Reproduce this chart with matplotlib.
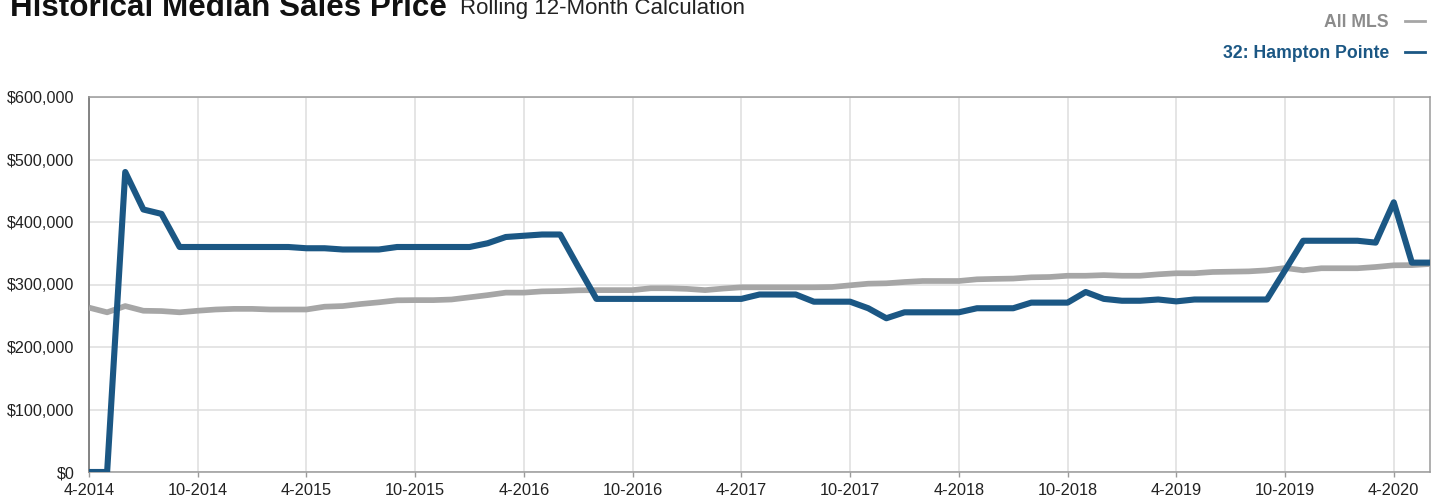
import matplotlib.pyplot as plt
from matplotlib.ticker import FuncFormatter

# Rolling 12-month median sales price, monthly from 4-2014 to 6-2020
start_year, start_month = 2014, 4
all_mls = [
    263000, 255500, 265500, 258000, 257500, 255500, 258000, 260000, 261000, 261000,
    260000, 260000, 260000, 264500, 265500, 268800, 271500, 274700, 275000, 275000,
    276000, 279500, 283000, 287000, 287000, 289000, 289500, 290700, 291000, 291000,
    291000, 294000, 294000, 293000, 291000, 293500, 295500, 295500, 295500, 295500,
    295500, 296000, 298700, 301300, 301900, 304000, 305600, 305600, 305600, 308300,
    309000, 309500, 311500, 312000, 314000, 314000, 315000, 314000, 314000, 316300,
    318000, 318000, 320000, 320500, 321000, 322700, 326400, 322700, 326000, 326000,
    326000, 328000, 330700, 331000, 332800,
]
hampton_pointe = [
    0, 0, 480000, 420000, 413000, 360000, 360000, 360000, 360000, 360000,
    360000, 360000, 358000, 358000, 356000, 356000, 356000, 360000, 360000, 360000,
    360000, 360000, 366000, 376000, 378000, 380000, 380000, 328000, 277000, 277000,
    277000, 277000, 277000, 277000, 277000, 277000, 277000, 284000, 284000, 284000,
    272500, 272500, 272500, 262000, 246000, 255500, 255500, 255500, 255500, 262000,
    262000, 262000, 271000, 271000, 271000, 288000, 277000, 274000, 274000, 276000,
    273000, 276000, 276000, 276000, 276000, 276000, 322700, 370000, 370000, 370000,
    370000, 367000, 431500, 335000, 335000,
]
series_names = ["All MLS", "32: Hampton Pointe"]
series_colors = ["#a6a6a6", "#1b5784"]
label_colors = ["#8c8c8c", "#1b5784"]

months = list(range(len(all_mls)))
tick_pos = list(range(0, len(all_mls), 6))
tick_labels = []
for p in tick_pos:
    m = (start_month - 1 + p) % 12 + 1
    y = start_year + (start_month - 1 + p) // 12
    tick_labels.append(f"{m}-{y}")

W, H = 1440, 499
fig = plt.figure(figsize=(W / 100, H / 100), dpi=100)
ax = fig.add_axes([89 / W, 1 - 472 / H, (1430 - 89) / W, (472 - 97) / H])

fonts = ["Liberation Sans", "DejaVu Sans"]

ax.plot(months, all_mls, color=series_colors[0], lw=4.1,
        solid_joinstyle="round", solid_capstyle="butt", zorder=3)
ax.plot(months, hampton_pointe, color=series_colors[1], lw=4.4,
        solid_joinstyle="round", solid_capstyle="butt", zorder=4)

ax.set_xlim(0, len(all_mls) - 1)
ax.set_ylim(0, 600000)
ax.set_yticks(range(0, 600001, 100000))
ax.yaxis.set_major_formatter(FuncFormatter(lambda v, _: f"${v:,.0f}"))
ax.set_xticks(tick_pos)
ax.set_xticklabels(tick_labels)

ax.grid(True, color="#dedede", lw=1.1, zorder=0)
ax.set_axisbelow(True)
for side in ["top", "right", "bottom"]:
    ax.spines[side].set_color("#9a9a9a")
    ax.spines[side].set_linewidth(1.1)
ax.spines["left"].set_color("#7a7a7a")
ax.spines["left"].set_linewidth(1.3)

ax.tick_params(axis="y", length=0, pad=10.5, labelsize=11.6, labelcolor="#222222")
ax.tick_params(axis="x", length=3.5, width=1, color="#9a9a9a", pad=4.5,
               labelsize=11.8, labelcolor="#222222")
for lbl in ax.get_xticklabels() + ax.get_yticklabels():
    lbl.set_family(fonts)

# Heading, partly above the top edge
fig.text(10 / W, 1 - 16 / H, "Historical Median Sales Price", family=fonts,
         fontweight="bold", fontsize=22.6, color="#111111", va="baseline", ha="left")
fig.text(460 / W, 1 - 14 / H, "Rolling 12-Month Calculation", family=fonts,
         fontsize=16, color="#222222", va="baseline", ha="left")

# Legend at the top right
for name, lc, tc, yb, yl in zip(series_names, series_colors, label_colors,
                                [27, 58], [21, 52]):
    fig.text(1389 / W, 1 - yb / H, name, family=fonts, fontweight="bold",
             fontsize=12.7, color=tc, ha="right", va="baseline")
    fig.add_artist(plt.Line2D([1405 / W, 1425 / W], [1 - yl / H, 1 - yl / H],
                              color=lc, lw=2, transform=fig.transFigure))

fig.savefig("out.png", dpi=100, facecolor="white")
